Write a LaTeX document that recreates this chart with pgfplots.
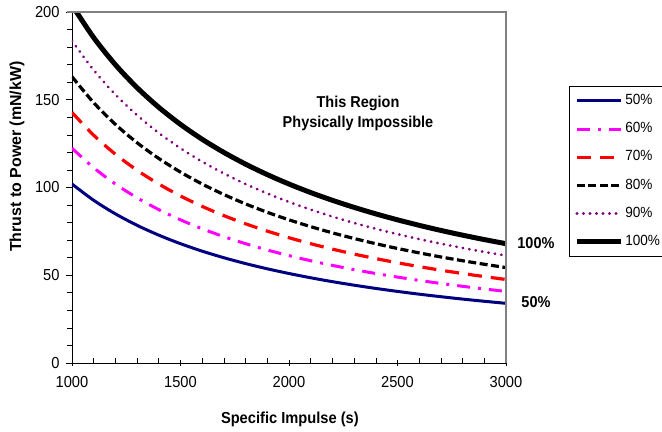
\documentclass[border=0pt]{standalone}
\usepackage{fontspec}
\setmainfont{Liberation Sans}[FakeStretch=0.92]
\newfontfamily\ylfont{Liberation Sans}
\usepackage{pgfplots}
\usepackage{pgfplotstable}
\pgfplotsset{compat=1.18}
\definecolor{cnavy}{HTML}{000080}
\definecolor{cmag}{HTML}{FF00FF}
\definecolor{cred}{HTML}{FF0000}
\definecolor{cpurp}{HTML}{800080}
\pgfplotstableread{
isp  e50    e60    e70    e80    e90    e100
1000 101.97 122.37 142.76 163.15 183.55 203.94
1100 92.70  111.24 129.78 148.32 166.86 185.40
1200 84.98  101.97 118.97 135.96 152.96 169.95
1300 78.44  94.13  109.82 125.50 141.19 156.88
1400 72.84  87.40  101.97 116.54 131.10 145.67
1500 67.98  81.58  95.17  108.77 122.36 135.96
1600 63.73  76.48  89.22  101.97 114.71 127.46
1700 59.98  71.98  83.98  95.98  107.97 119.97
1800 56.65  67.98  79.31  90.64  101.97 113.30
1900 53.67  64.40  75.14  85.87  96.61  107.34
2000 50.99  61.18  71.38  81.58  91.77  101.97
2100 48.56  58.27  67.98  77.70  87.41  97.12
2200 46.35  55.62  64.89  74.16  83.43  92.70
2300 44.34  53.20  62.07  70.94  79.80  88.67
2400 42.49  50.99  59.49  67.98  76.48  84.98
2500 40.79  48.95  57.11  65.26  73.42  81.58
2600 39.22  47.06  54.91  62.75  70.60  78.44
2700 37.77  45.32  52.87  60.42  67.98  75.53
2800 36.42  43.70  50.99  58.27  65.56  72.84
2900 35.17  42.20  49.23  56.26  63.30  70.33
3000 33.99  40.79  47.59  54.38  61.18  67.98
}\datatable
\begin{document}
\begin{tikzpicture}
\path[use as bounding box] (-72bp,-69bp) rectangle (590bp,363bp);
\begin{axis}[
  scale only axis,
  width=434bp, height=351bp,
  xmin=1000, xmax=3000, ymin=0, ymax=200,
  xtick={1000,1500,2000,2500,3000},
  ytick={0,50,100,150,200},
  minor x tick num=4, minor y tick num=4,
  axis lines*=left,
  axis line style={black, line width=0.8bp},
  tick style={black, line width=0.6bp},
  tick align=outside,
  major tick length=6bp, minor tick length=4.5bp,
  every minor x tick/.append style={yshift=4.5bp},
  every major x tick/.append style={yshift=3bp},
  /pgf/number format/assume math mode=true,
  /pgf/number format/set thousands separator={},
  ticklabel style={font=\fontsize{16}{18}\selectfont},
  yticklabel style={xshift=-3bp},
  xticklabel style={yshift=-4bp},
  xlabel={Specific Impulse (s)},
  ylabel={Thrust to Power (mN/kW)},
  xlabel style={font=\fontsize{16}{18}\selectfont\bfseries, at={(axis description cs:0.502,-0.162)}, anchor=center},
  ylabel style={font=\ylfont\fontsize{16}{18}\selectfont\bfseries, at={(axis description cs:-0.127,0.588)}, anchor=center},
  clip mode=individual,
  legend cell align=left,
  legend image code/.code={\draw[#1] (0bp,0bp) -- (44bp,0bp);},
  legend style={at={(axis description cs:1.145,0.789)}, anchor=north west,
    draw=black, line width=0.8bp, font=\fontsize{14.8}{17}\selectfont,
    inner xsep=5bp, inner ysep=6bp, row sep=11.2bp,
    nodes={text height=10bp, text depth=3bp, inner sep=2bp}},
]
\addplot[cnavy, line width=3bp, smooth] table[x=isp, y=e50] {\datatable};
\addlegendentry{50\%}
\addplot[cmag, line width=3bp, smooth, dash pattern=on 13bp off 8bp on 3bp off 8bp] table[x=isp, y=e60] {\datatable};
\addlegendentry{60\%}
\addplot[cred, line width=3.2bp, smooth, dash pattern=on 14bp off 9bp] table[x=isp, y=e70] {\datatable};
\addlegendentry{70\%}
\addplot[black, line width=3.2bp, smooth, dash pattern=on 8bp off 3.5bp] table[x=isp, y=e80] {\datatable};
\addlegendentry{80\%}
\addplot[cpurp, line width=2.8bp, smooth, line cap=round, dash pattern=on 0.3bp off 6.2bp] table[x=isp, y=e90] {\datatable};
\addlegendentry{90\%}
\addplot[black, line width=5bp, smooth] table[x=isp, y=e100] {\datatable};
\addlegendentry{100\%}
\draw[gray, line width=1.5bp] (rel axis cs:-0.012,1) -- (rel axis cs:1,1) -- (rel axis cs:1,0);
\node[font=\fontsize{15.8}{18}\selectfont\bfseries] at (axis cs:3138,68.4) {100\%};
\node[font=\fontsize{15.8}{18}\selectfont\bfseries] at (axis cs:3138,34.8) {50\%};
\node[font=\fontsize{15.8}{21}\selectfont\bfseries, align=center] at (axis cs:2318,142.2) {This Region\\Physically Impossible};
\end{axis}
\end{tikzpicture}
\end{document}
